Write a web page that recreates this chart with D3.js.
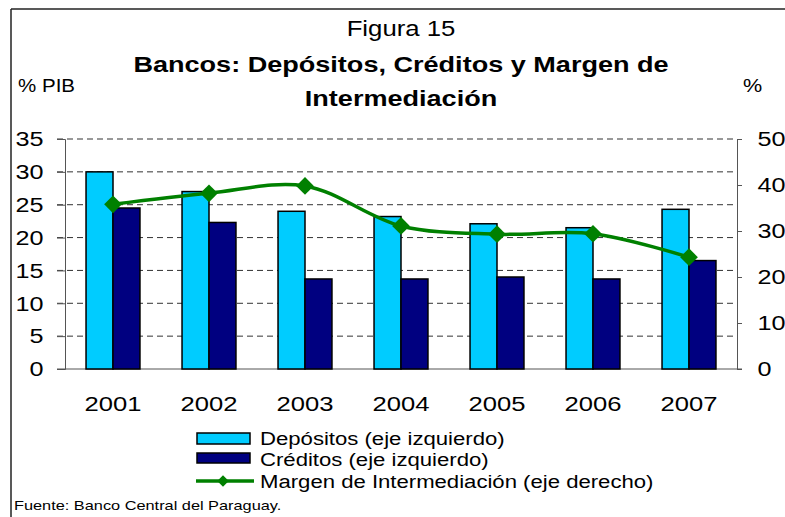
<!DOCTYPE html>
<meta charset="utf-8" />
<script src="https://d3js.org/d3.v7.min.js"></script>
<style>
	body { margin: 0; background: #fff; }
	text { font-family: 'Liberation Sans', Arial, sans-serif; fill: #000; }
</style>
<div id="my_dataviz"></div>
<script>
	// data
	var years = ['2001', '2002', '2003', '2004', '2005', '2006', '2007'];
	var depositos = [30.0, 27.0, 24.0, 23.2, 22.1, 21.5, 24.3];
	var creditos = [24.5, 22.3, 13.7, 13.7, 14.0, 13.7, 16.5];
	var margen = [35.8, 38.2, 39.8, 31.1, 29.3, 29.4, 24.3];
	var leftTicks = [0, 5, 10, 15, 20, 25, 30, 35];
	var rightTicks = [0, 10, 20, 30, 40, 50];

	var width = 785, height = 517;

	var svg = d3
		.select('#my_dataviz')
		.append('svg')
		.attr('width', width)
		.attr('height', height);

	// the original picture has wide (horizontally stretched) lettering
	function stretchText(parent, x, y, str, size, sx, anchor, weight) {
		return parent.append('text')
			.attr('transform', 'translate(' + x + ',' + y + ') scale(' + sx + ',1)')
			.attr('text-anchor', anchor || 'start')
			.style('font-size', size + 'px')
			.style('font-weight', weight || 'normal')
			.text(str);
	}

	// frame
	svg.append('line').attr('x1', 11).attr('x2', 785).attr('y1', 9).attr('y2', 9)
		.attr('stroke', '#222').attr('stroke-width', 1.5);
	svg.append('line').attr('x1', 11).attr('x2', 11).attr('y1', 9).attr('y2', 517)
		.attr('stroke', '#222').attr('stroke-width', 1.5);

	// titles
	stretchText(svg, 401, 36, 'Figura 15', 22, 1.17, 'middle');
	stretchText(svg, 401, 72, 'Bancos: Depósitos, Créditos y Margen de', 22, 1.23, 'middle', 'bold');
	stretchText(svg, 401, 106, 'Intermediación', 22, 1.23, 'middle', 'bold');
	stretchText(svg, 18, 92, '% PIB', 18, 1.14);
	stretchText(svg, 743, 92, '%', 18, 1.2);

	// scales
	var x = d3.scaleBand().domain(years).range([65, 737]).padding(0);
	var x1 = d3.scaleBand().domain(['dep', 'cred']).range([0, x.bandwidth()])
		.paddingInner(0).paddingOuter(0.78);
	var y = d3.scaleLinear().domain([0, 35]).range([369, 139]);
	var yR = d3.scaleLinear().domain([0, 50]).range([369, 139]);

	// dashed gridlines
	svg.append('g').selectAll('line').data(leftTicks.filter(function (d) { return d > 0; }))
		.enter().append('line')
		.attr('x1', 57).attr('x2', 737)
		.attr('y1', function (d) { return y(d); })
		.attr('y2', function (d) { return y(d); })
		.attr('stroke', '#333').attr('stroke-width', 1)
		.attr('stroke-dasharray', '6,4');

	// left axis
	var gl = svg.append('g').attr('transform', 'translate(65,0)')
		.call(d3.axisLeft(y).tickValues(leftTicks).tickSize(8).tickPadding(10));
	gl.selectAll('text').style('font-size', '21px')
		.style('font-family', "'Liberation Sans', Arial, sans-serif")
		.attr('transform', 'scale(1.2,1)');
	gl.select('.domain').attr('stroke', '#555');
	gl.selectAll('.tick line').attr('stroke', '#555');

	// right axis
	var gr = svg.append('g').attr('transform', 'translate(737,0)')
		.call(d3.axisRight(yR).tickValues(rightTicks).tickSize(5).tickPadding(12));
	gr.selectAll('text').style('font-size', '21px')
		.style('font-family', "'Liberation Sans', Arial, sans-serif")
		.attr('transform', 'scale(1.2,1)');
	gr.select('.domain').attr('stroke', '#555');
	gr.selectAll('.tick line').attr('stroke', '#555');

	// bottom line
	svg.append('line').attr('x1', 57).attr('x2', 742).attr('y1', y(0)).attr('y2', y(0))
		.attr('stroke', '#555');

	// year labels
	var gy = svg.append('g');
	years.forEach(function (d) {
		stretchText(gy, x(d) + x.bandwidth() / 2, 411, d, 21, 1.22, 'middle');
	});

	// bars
	svg.append('g').selectAll('rect').data(years).enter().append('rect')
		.attr('x', function (d) { return x(d) + x1('dep'); })
		.attr('y', function (d, i) { return y(depositos[i]); })
		.attr('width', x1.bandwidth())
		.attr('height', function (d, i) { return y(0) - y(depositos[i]); })
		.attr('fill', '#00CCFF').attr('stroke', '#000').attr('stroke-width', 1.5);
	svg.append('g').selectAll('rect').data(years).enter().append('rect')
		.attr('x', function (d) { return x(d) + x1('cred'); })
		.attr('y', function (d, i) { return y(creditos[i]); })
		.attr('width', x1.bandwidth())
		.attr('height', function (d, i) { return y(0) - y(creditos[i]); })
		.attr('fill', '#000080').attr('stroke', '#000').attr('stroke-width', 1.5);

	// line (right axis)
	var line = d3.line()
		.x(function (d, i) { return x(years[i]) + x.bandwidth() / 2; })
		.y(function (d) { return yR(d); })
		.curve(d3.curveCatmullRom);
	svg.append('path').datum(margen)
		.attr('d', line)
		.attr('fill', 'none').attr('stroke', '#008000').attr('stroke-width', 3.5);

	var diamond = d3.symbol().type(d3.symbolDiamond2).size(200);
	svg.append('g').selectAll('path').data(margen).enter().append('path')
		.attr('d', diamond)
		.attr('transform', function (d, i) {
			return 'translate(' + (x(years[i]) + x.bandwidth() / 2) + ',' + yR(d) + ')';
		})
		.attr('fill', '#008000');

	// legend
	var lg = svg.append('g');
	lg.append('rect').attr('x', 197).attr('y', 433).attr('width', 53).attr('height', 11)
		.attr('fill', '#00CCFF').attr('stroke', '#000').attr('stroke-width', 1.5);
	lg.append('rect').attr('x', 197).attr('y', 453).attr('width', 53).attr('height', 10)
		.attr('fill', '#000080').attr('stroke', '#000').attr('stroke-width', 1.5);
	lg.append('line').attr('x1', 196).attr('x2', 254).attr('y1', 481).attr('y2', 481)
		.attr('stroke', '#008000').attr('stroke-width', 3.5);
	lg.append('path').attr('d', d3.symbol().type(d3.symbolDiamond2).size(85))
		.attr('transform', 'translate(223,481)').attr('fill', '#008000');
	stretchText(lg, 260, 444.5, 'Depósitos (eje izquierdo)', 18, 1.23);
	stretchText(lg, 260, 466, 'Créditos (eje izquierdo)', 18, 1.23);
	stretchText(lg, 260, 488, 'Margen de Intermediación (eje derecho)', 18, 1.23);

	// source
	stretchText(svg, 14, 510, 'Fuente: Banco Central del Paraguay.', 13.5, 1.21);
</script>
